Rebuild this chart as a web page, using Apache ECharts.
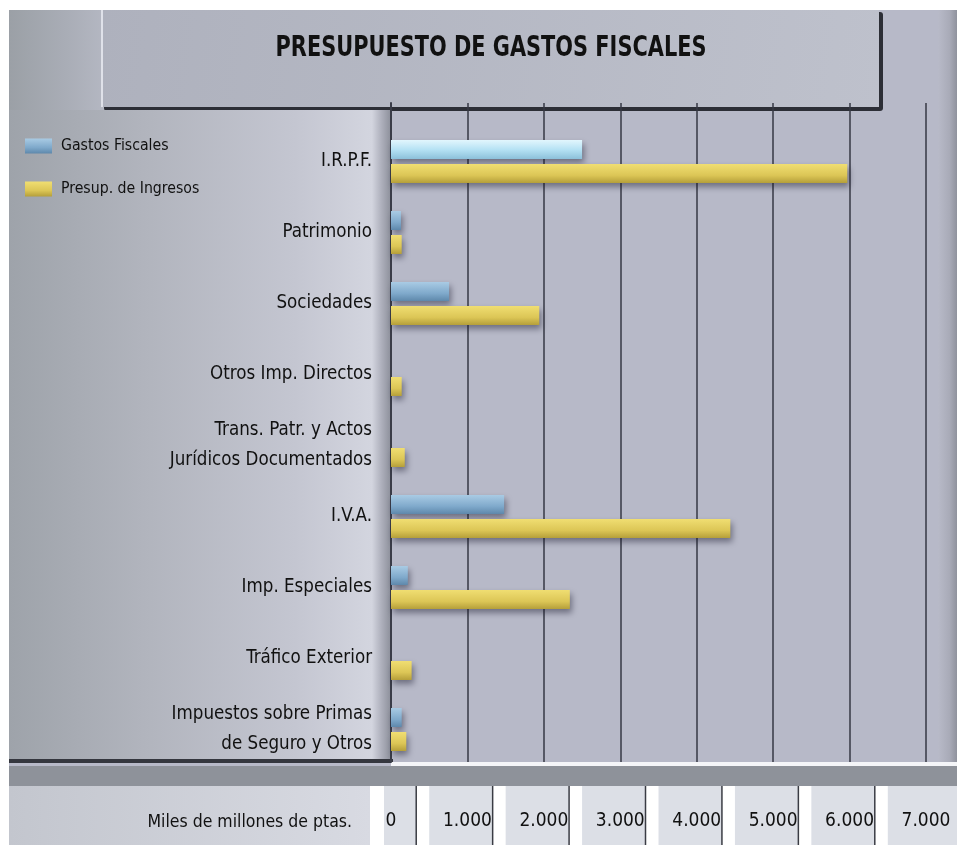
<!DOCTYPE html>
<html>
<head>
<meta charset="utf-8">
<script src="https://cdn.jsdelivr.net/npm/echarts@6/dist/echarts.min.js"></script>
<style>
html,body{margin:0;padding:0;background:#fff;}
#main{width:957px;height:845px;}
</style>
</head>
<body>
<div id="main"></div>
<script>
// ---- data ----
const chartTitle = 'PRESUPUESTO DE GASTOS FISCALES';
const categories = [
  'I.R.P.F.',
  'Patrimonio',
  'Sociedades',
  'Otros Imp. Directos',
  'Trans. Patr. y Actos\nJurídicos Documentados',
  'I.V.A.',
  'Imp. Especiales',
  'Tráfico Exterior',
  'Impuestos sobre Primas\nde Seguro y Otros'
];
const seriesNames = ['Gastos Fiscales', 'Presup. de Ingresos'];
const gastosFiscales = [2500, 130, 760, 0, 0, 1480, 220, 0, 140];
const presupIngresos = [5970, 140, 1940, 140, 180, 4440, 2340, 270, 200];
const xTickValues = [0, 1000, 2000, 3000, 4000, 5000, 6000, 7000];
const xTickLabels = ['0', '1.000', '2.000', '3.000', '4.000', '5.000', '6.000', '7.000'];
const xAxisName = 'Miles de millones de ptas.';

// ---- styles ----
const FONT = '"DejaVu Sans Condensed", "Liberation Sans Narrow", sans-serif';
const W = 957, H = 845;
const plotLeft = 391, plotRight = 926;
const blueGrad = new echarts.graphic.LinearGradient(0, 0, 0, 1, [
  {offset: 0, color: '#a9cbe4'}, {offset: 0.6, color: '#7fa9cb'}, {offset: 1, color: '#5e88ab'}]);
const blueLight = new echarts.graphic.LinearGradient(0, 0, 0, 1, [
  {offset: 0, color: '#e2f6fd'}, {offset: 0.5, color: '#b6e2f4'}, {offset: 1, color: '#8cc0da'}]);
const yellowGrad = new echarts.graphic.LinearGradient(0, 0, 0, 1, [
  {offset: 0, color: '#f0de72'}, {offset: 0.6, color: '#dcc656'}, {offset: 1, color: '#b59f3a'}]);

const chart = echarts.init(document.getElementById('main'), null, {renderer: 'canvas'});

const bgGraphics = [
  // canvas background
  {type: 'rect', z: -20, silent: true, shape: {x: 0, y: 0, width: W, height: H}, style: {fill: '#b7b9c8'}},
  // right edge shade
  {type: 'rect', z: -19, silent: true, shape: {x: 938, y: 10, width: 19, height: 756},
    style: {fill: new echarts.graphic.LinearGradient(0, 0, 1, 0, [{offset: 0, color: '#b8bac8'}, {offset: 0.6, color: '#a9abb8'}, {offset: 1, color: '#8f929d'}])}},
  // top-left area left of title box
  {type: 'rect', z: -19, silent: true, shape: {x: 9, y: 10, width: 95, height: 100},
    style: {fill: new echarts.graphic.LinearGradient(0, 0, 1, 0, [{offset: 0, color: '#9ba0a6'}, {offset: 0.6, color: '#a9adb6'}, {offset: 1, color: '#b4b7c2'}])}},
  // title box shadow
  {type: 'rect', z: -18, silent: true, shape: {x: 104, y: 12, width: 779, height: 99, r: 3}, style: {fill: '#2c2e36'}},
  // title box
  {type: 'rect', z: -17, silent: true, shape: {x: 101, y: 10, width: 778, height: 97},
    style: {fill: new echarts.graphic.LinearGradient(0, 0, 1, 1, [{offset: 0, color: '#aeb1bd'}, {offset: 1, color: '#bec1cc'}])}},
  {type: 'rect', z: -16, silent: true, shape: {x: 101, y: 10, width: 2, height: 97}, style: {fill: '#dfe1e9'}},
  // left panel
  {type: 'rect', z: -18, silent: true, shape: {x: 9, y: 110, width: 382, height: 650},
    style: {fill: new echarts.graphic.LinearGradient(0, 0, 1, 0, [
      {offset: 0, color: '#9ea3aa'}, {offset: 0.35, color: '#b1b4bd'}, {offset: 0.75, color: '#c4c6d1'},
      {offset: 0.95, color: '#d3d5df'}, {offset: 0.975, color: '#aeb0bc'}, {offset: 1, color: '#8c8f9a'}])}},
  // left panel bottom shadow
  {type: 'rect', z: -17, silent: true, shape: {x: 9, y: 759, width: 384, height: 4}, style: {fill: '#34363e'}},
  // white strip under plot
  {type: 'rect', z: -17, silent: true, shape: {x: 391, y: 762, width: 566, height: 5}, style: {fill: '#f4f5f8'}},
  // gray band
  {type: 'rect', z: -17, silent: true, shape: {x: 9, y: 766, width: 948, height: 20}, style: {fill: '#8e929a'}},
  // bottom strip
  {type: 'rect', z: -17, silent: true, shape: {x: 9, y: 786, width: 948, height: 59}, style: {fill: '#dcdfe6'}},
  {type: 'rect', z: -16, silent: true, shape: {x: 9, y: 786, width: 361, height: 59},
    style: {fill: new echarts.graphic.LinearGradient(0, 0, 1, 0, [{offset: 0, color: '#c3c6ce'}, {offset: 1, color: '#d8dae2'}])}},
  {type: 'rect', z: -16, silent: true, shape: {x: 370, y: 786, width: 14, height: 59}, style: {fill: '#ffffff'}},
  // white margins
  {type: 'rect', z: -15, silent: true, shape: {x: 0, y: 0, width: W, height: 10}, style: {fill: '#ffffff'}},
  {type: 'rect', z: -15, silent: true, shape: {x: 0, y: 0, width: 9, height: H}, style: {fill: '#ffffff'}},
  // title text
  {type: 'text', z: 5, silent: true, x: 491, y: 48, scaleX: 0.8,
    style: {text: chartTitle, x: 0, y: 0, textAlign: 'center', textVerticalAlign: 'middle',
    font: 'bold 29px "DejaVu Sans Condensed", sans-serif', fill: '#111'}},
  // axis name
  {type: 'text', z: 5, silent: true, style: {text: xAxisName, x: 352, y: 822, textAlign: 'right', textVerticalAlign: 'middle',
    font: '17.5px "DejaVu Sans Condensed", sans-serif', fill: '#111'}}
];

chart.setOption({
  animation: false,
  textStyle: {fontFamily: FONT},
  graphic: bgGraphics,
  legend: {
    data: seriesNames,
    orient: 'vertical',
    left: 20,
    top: 133,
    itemWidth: 27,
    itemHeight: 15,
    itemGap: 27,
    icon: 'rect',
    textStyle: {fontSize: 15.7, color: '#111', fontFamily: FONT, padding: [0, 0, 0, 4]}
  },
  grid: [
    {left: plotLeft, right: W - plotRight, top: 103, bottom: H - 762, containLabel: false},
    {left: plotLeft, right: W - plotRight, top: 126, bottom: H - 765, containLabel: false}
  ],
  xAxis: [
    {
      type: 'value', gridIndex: 0, min: 0, max: 7000, interval: 1000,
      axisLine: {show: false}, axisTick: {show: false},
      splitLine: {show: true, lineStyle: {color: '#363844', width: 1.5}},
      axisLabel: {
        margin: 50, fontSize: 19, color: '#111', fontFamily: FONT,
        formatter: function (v) { const i = xTickValues.indexOf(v); return i >= 0 ? xTickLabels[i] : ''; }
      }
    },
    {
      type: 'value', gridIndex: 1, min: 0, max: 7000, interval: 1000, show: false
    }
  ],
  yAxis: [
    {
      type: 'category', gridIndex: 0, data: [''],
      axisLine: {show: true, lineStyle: {color: '#3a3c48', width: 2}},
      axisTick: {show: false}, axisLabel: {show: false}, splitLine: {show: false}
    },
    {
      type: 'category', gridIndex: 1, data: categories, inverse: true,
      axisLine: {show: false}, axisTick: {show: false},
      axisLabel: {margin: 19, fontSize: 18.6, color: '#111', fontFamily: FONT, lineHeight: 30, align: 'right'}
    }
  ],
  series: [
    {
      name: seriesNames[0], type: 'bar', xAxisIndex: 1, yAxisIndex: 1,
      barWidth: 19, barGap: '26%',
      itemStyle: {color: blueGrad,
        shadowColor: 'rgba(20,20,40,0.45)', shadowBlur: 6, shadowOffsetX: 2, shadowOffsetY: 4},
      data: gastosFiscales.map(function (v, i) { return i === 0 ? {value: v, itemStyle: {color: blueLight}} : v; })
    },
    {
      name: seriesNames[1], type: 'bar', xAxisIndex: 1, yAxisIndex: 1,
      barWidth: 19, barGap: '26%',
      itemStyle: {color: yellowGrad,
        shadowColor: 'rgba(20,20,40,0.45)', shadowBlur: 6, shadowOffsetX: 2, shadowOffsetY: 4},
      data: presupIngresos
    }
  ]
});

// separators in the bottom label strip, placed from the axis scale
const seps = [];
xTickValues.slice(0, -1).forEach(function (v) {
  const px = chart.convertToPixel({xAxisIndex: 0}, v + 330);
  seps.push({type: 'rect', z: -14, silent: true, shape: {x: px, y: 786, width: 13, height: 59}, style: {fill: '#ffffff'}});
  seps.push({type: 'line', z: -13, silent: true, shape: {x1: px, y1: 786, x2: px, y2: 845}, style: {stroke: '#3a3c44', lineWidth: 1.5}});
});
chart.setOption({graphic: bgGraphics.concat(seps)});
</script>
</body>
</html>
